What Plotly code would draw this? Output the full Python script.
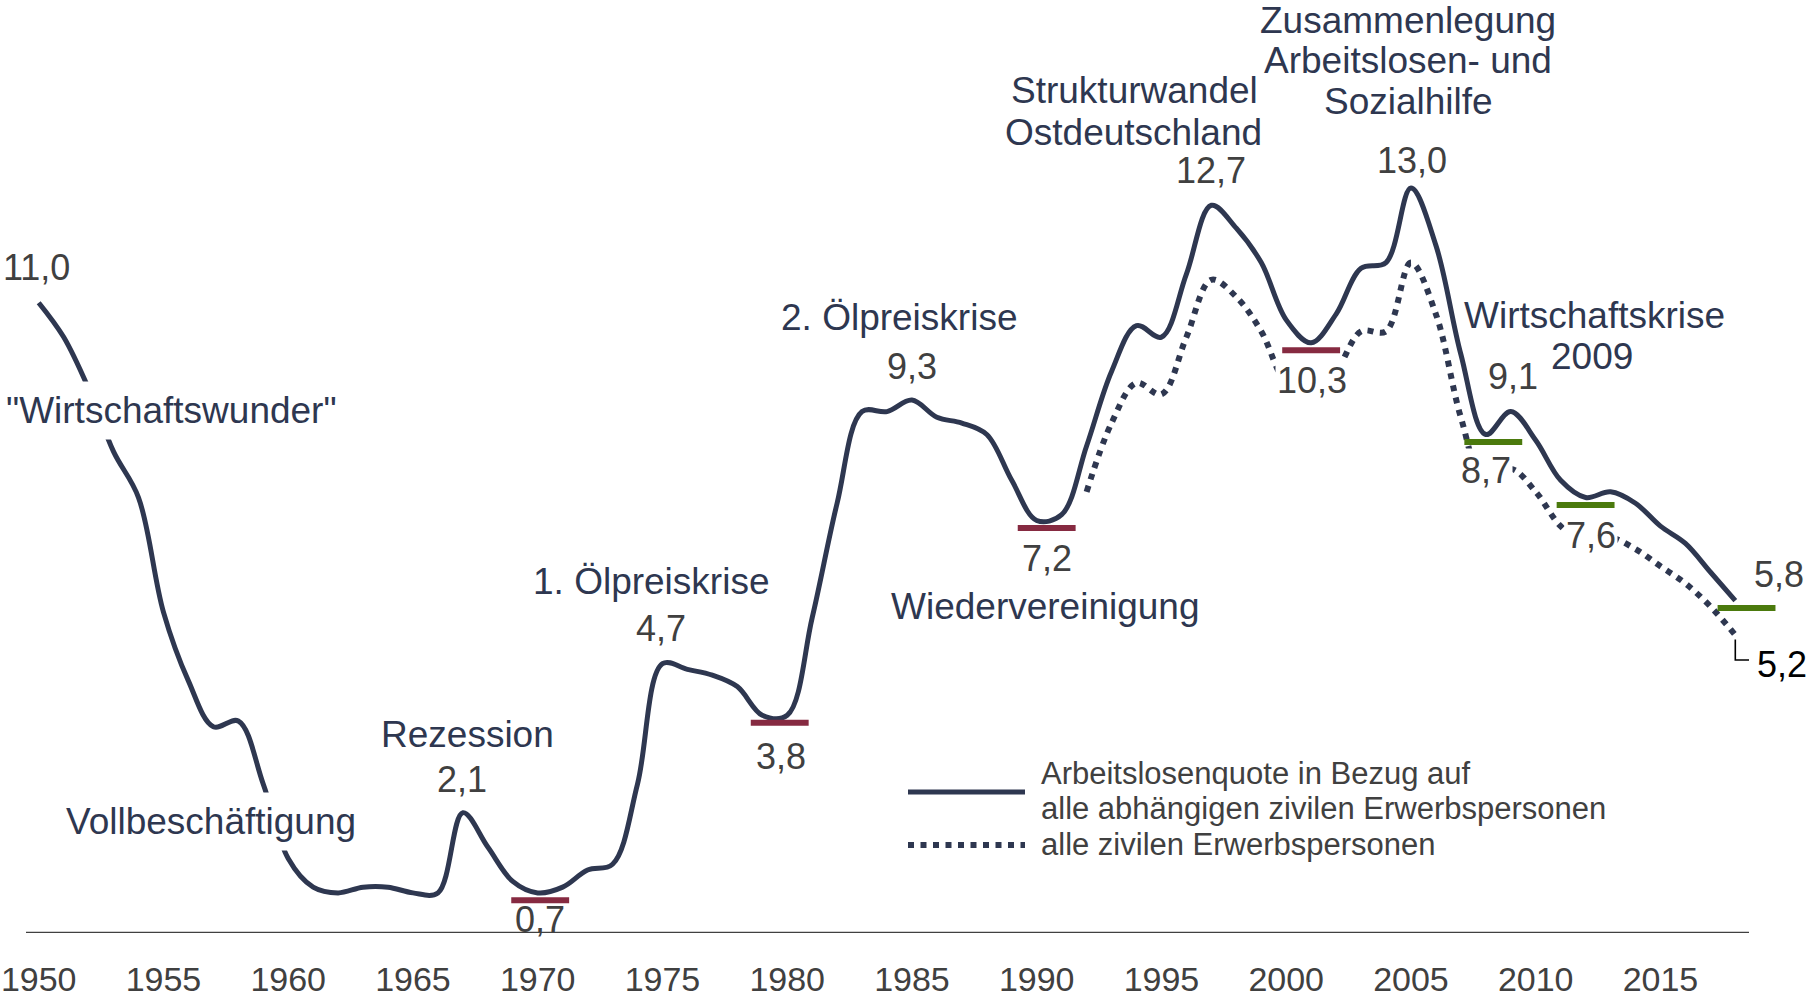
import plotly.graph_objects as go

# ---------------- data ----------------
years = list(range(1950, 2019))
quote_abhaengige = [11.0, 10.4, 9.5, 8.4, 7.6, 5.6, 4.4, 3.6, 3.7, 2.6,
                    1.3, 0.8, 0.7, 0.8, 0.8, 0.7, 0.7, 2.1, 1.5, 0.9,
                    0.7, 0.8, 1.1, 1.2, 2.6, 4.7, 4.6, 4.5, 4.3, 3.8,
                    3.8, 5.5, 7.5, 9.1, 9.1, 9.3, 9.0, 8.9, 8.7, 7.9,
                    7.2, 7.3, 8.5, 9.8, 10.6, 10.4, 11.5, 12.7, 12.3, 11.7,
                    10.7, 10.3, 10.8, 11.6, 11.7, 13.0, 12.0, 10.1, 8.7, 9.1,
                    8.6, 7.9, 7.6, 7.7, 7.5, 7.1, 6.8, 6.3, 5.8]
years_all = list(range(1992, 2019))
quote_alle = [7.7, 8.9, 9.6, 9.4, 10.4, 11.4, 11.1, 10.5, 9.6, 9.4,
              9.8, 10.5, 10.5, 11.7, 10.8, 9.0, 7.8, 8.1, 7.7, 7.1,
              6.8, 6.9, 6.7, 6.4, 6.1, 5.7, 5.2]

# low points marked with short bars
red_low_years = [1970.1, 1979.7, 1990.4, 2001.0]
red_low_values = [0.7, 3.8, 7.2, 10.3]
green_low_years = [2008.3, 2012.0, 2018.45]
green_low_values = [8.7, 7.6, 5.8]

tick_years = list(range(1950, 2016, 5))
tick_labels = [str(y) for y in tick_years]

series_names = ["Arbeitslosenquote in Bezug auf", "alle abhängigen zivilen Erwerbspersonen",
                "alle zivilen Erwerbspersonen"]

# value labels: (year, series, dx, dy, white background)
value_labels = [(1950, "abh", -2, 35, False), (1967, "abh", -1, 33, True), (1970, "abh", 2, -27, False),
                (1975, "abh", -1, 35, True), (1980, "abh", -6, -41, True), (1985, "abh", 0, 34, True),
                (1990, "abh", 10, -38, True), (1997, "abh", 0, 35, True), (2005, "abh", 1, 28, True),
                (2001, "abh", 1, -38, True), (2009, "abh", 2, 35, True), (2008, "abh", 0, -36, True),
                (2012, "abh", 5, -38, True), (2018, "abh", 44, 26, True), (2018, "alle", 47, -29, True)]

# ---------------- styling / geometry ----------------
W, H = 1810, 997
AXIS_PX = 933          # pixel row of value 0
PX_PER_UNIT = 57.3
X1950_PX = 38.7
PX_PER_YEAR = 24.95

NAVY = "#2E3750"
GREY = "#404040"
RED = "#862A41"
GREEN = "#4B7A0D"
FONT = "Liberation Sans, Arial, sans-serif"


def yr(px):
    return 1950 + (px - X1950_PX) / PX_PER_YEAR


def val(py):
    return (AXIS_PX - py) / PX_PER_UNIT


def fmt(v):
    return f"{v:.1f}".replace(".", ",")


fig = go.Figure()

fig.add_trace(go.Scatter(x=years_all, y=quote_alle, mode="lines",
                         line=dict(color=NAVY, width=6, dash="6px,6.5px", shape="spline", smoothing=1),
                         showlegend=False, hoverinfo="skip"))
fig.add_trace(go.Scatter(x=years, y=quote_abhaengige, mode="lines",
                         line=dict(color=NAVY, width=5, shape="spline", smoothing=1),
                         showlegend=False, hoverinfo="skip"))

HALF = 1.16
DROP = 0.13


def bar_xy(ys, vs):
    xs, yy = [], []
    for y, v in zip(ys, vs):
        xs += [y - HALF, y + HALF, None]
        yy += [v - DROP, v - DROP, None]
    return xs, yy


for ys, vs, c in [(red_low_years, red_low_values, RED), (green_low_years, green_low_values, GREEN)]:
    bx, by = bar_xy(ys, vs)
    fig.add_trace(go.Scatter(x=bx, y=by, mode="lines", line=dict(color=c, width=6),
                             showlegend=False, hoverinfo="skip"))

annotations = []
series_lookup = {"abh": dict(zip(years, quote_abhaengige)), "alle": dict(zip(years_all, quote_alle))}
for y, s, dx, dy, bg in value_labels:
    v = series_lookup[s][y]
    annotations.append(dict(x=y, y=v, xref="x", yref="y", text=fmt(v), showarrow=False,
                            xshift=dx, yshift=dy, xanchor="center", yanchor="middle",
                            font=dict(family=FONT, size=36, color="#000000" if s == "alle" else GREY),
                            bgcolor="white" if bg else None, borderpad=1))

event_labels = [('"Wirtschaftswunder"', 171, 410, 8), ("Vollbeschäftigung", 211, 821, 8),
                ("Rezession", 467, 734, 0), ("1. Ölpreiskrise", 651, 581, 0),
                ("2. Ölpreiskrise", 899, 317, 0), ("Wiedervereinigung", 1045, 606, 0),
                ("Strukturwandel", 1134, 90, 0), ("Ostdeutschland", 1133, 132, 0),
                ("Zusammenlegung", 1408, 20, 0), ("Arbeitslosen- und", 1408, 60, 0),
                ("Sozialhilfe", 1408, 101, 0), ("Wirtschaftskrise", 1594, 315, 0),
                ("2009", 1592, 356, 0)]
for t, px, py, pad in event_labels:
    annotations.append(dict(x=yr(px), y=val(py), xref="x", yref="y", text=t, showarrow=False,
                            xanchor="center", yanchor="middle",
                            font=dict(family=FONT, size=37, color=NAVY),
                            bgcolor="white" if pad else None, borderpad=pad))

# legend (drawn manually)
leg_rows = [(series_names[0], 773), (series_names[1], 808), (series_names[2], 844)]
for t, py in leg_rows:
    annotations.append(dict(x=1039 / W, y=(AXIS_PX - py) / AXIS_PX, xref="paper", yref="paper",
                            text=t, showarrow=False, xanchor="left", yanchor="middle",
                            font=dict(family=FONT, size=31, color=GREY)))

shapes = [
    dict(type="line", xref="x", yref="y", x0=yr(26), x1=yr(1749), y0=0, y1=0,
         line=dict(color=GREY, width=2.5), layer="below"),
    dict(type="path", xref="x", yref="y",
         path=f"M {2018},{5.2 - 0.08} L {2018},{val(660)} L {yr(1749)},{val(660)}",
         line=dict(color="#000000", width=1.6)),
    dict(type="line", xref="paper", yref="paper", x0=908 / W, x1=1025 / W,
         y0=(AXIS_PX - 792) / AXIS_PX, y1=(AXIS_PX - 792) / AXIS_PX,
         line=dict(color=NAVY, width=5)),
    dict(type="line", xref="paper", yref="paper", x0=908 / W, x1=1025 / W,
         y0=(AXIS_PX - 845) / AXIS_PX, y1=(AXIS_PX - 845) / AXIS_PX,
         line=dict(color=NAVY, width=6, dash="6px,6.5px")),
]

fig.update_layout(
    width=W, height=H,
    margin=dict(l=0, r=0, t=0, b=H - AXIS_PX, autoexpand=False),
    paper_bgcolor="white", plot_bgcolor="white",
    xaxis=dict(range=[yr(0), yr(W)], showgrid=False, zeroline=False, showline=False,
               tickmode="array", tickvals=tick_years, ticktext=tick_labels, ticks="",
               tickfont=dict(family=FONT, size=34, color=GREY), ticklabelstandoff=23,
               ticklabeloverflow="allow", automargin=False, fixedrange=True),
    yaxis=dict(range=[0, AXIS_PX / PX_PER_UNIT], visible=False, fixedrange=True),
    annotations=annotations, shapes=shapes, showlegend=False,
)

fig.write_html("out.html", config={"displayModeBar": False},
               post_script="document.body.style.margin='0px';document.body.style.overflow='hidden';")
